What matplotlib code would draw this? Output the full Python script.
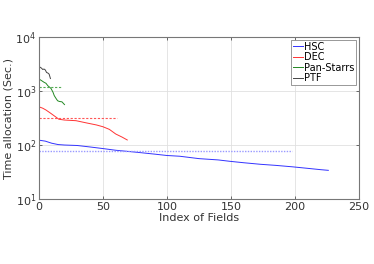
import numpy as np
import matplotlib
matplotlib.use("Agg")
import matplotlib.pyplot as plt

# HSC
hsc_idx = [0, 5, 10, 15, 20, 30, 40, 50, 60, 70, 80, 90, 100, 110, 125, 140, 149, 160, 173, 185, 198, 210, 220, 226]
hsc_val = [123, 118, 108, 102, 100, 98, 92, 86, 80, 76, 72, 68, 64, 62, 56, 53, 50, 47, 44, 42, 39.5, 37, 35, 34]
hsc_ref = 79
hsc_ref_end = 198

# DEC
dec_idx = [0, 3, 5.5, 9, 13, 15.6, 20, 29, 37, 45, 50, 55, 60, 65, 69]
dec_val = [510, 480, 445, 390, 333, 300, 290, 282, 257, 235, 218, 195, 160, 140, 124]
dec_ref = 316
dec_ref_end = 61

# Pan-Starrs
ps_idx = [0, 2, 4, 5.5, 7, 9.4, 11, 12, 13.5, 14.6, 16, 18, 20]
ps_val = [1670, 1560, 1450, 1390, 1250, 1120, 950, 820, 720, 660, 640, 630, 560]
ps_ref = 1200
ps_ref_end = 17

# PTF
ptf_idx = [0, 1, 2, 3, 4, 5, 6, 7, 8, 9]
ptf_val = [2800, 2750, 2650, 2500, 2550, 2450, 2200, 2150, 2050, 1700]

fig = plt.figure(figsize=(3.74, 2.64), dpi=100)
ax = fig.add_axes([0.104, 0.246, 0.856, 0.614])

ax.semilogy(hsc_idx, hsc_val, color="#3333ff", lw=0.7, label="HSC")
ax.semilogy(dec_idx, dec_val, color="#ff3333", lw=0.7, label="DEC")
ax.semilogy(ps_idx, ps_val, color="#228822", lw=0.7, label="Pan-Starrs")
ax.semilogy(ptf_idx, ptf_val, color="#444444", lw=0.7, label="PTF")

ax.plot([0, hsc_ref_end], [hsc_ref, hsc_ref], color="#9999ff", lw=1.0, ls=(0, (1, 1)))
ax.plot([0, dec_ref_end], [dec_ref, dec_ref], color="#ff5555", lw=0.8, ls=(0, (2, 1.5)))
ax.plot([0, ps_ref_end], [ps_ref, ps_ref], color="#55aa55", lw=0.8, ls=(0, (2, 1.5)))

ax.set_xlim(0, 250)
ax.set_ylim(10, 1e4)
ax.set_xticks([0, 50, 100, 150, 200, 250])
ax.set_yticks([10, 100, 1000, 10000])
ax.yaxis.set_minor_locator(matplotlib.ticker.NullLocator())
ax.grid(True, color="#e0e0e0", lw=0.6)
ax.tick_params(direction="in", length=2, width=0.5, labelsize=8, top=True, right=True, colors="#333333", pad=2)
for s in ax.spines.values():
    s.set_color("#777777")
    s.set_linewidth(0.8)

ax.set_xlabel("Index of Fields", fontsize=8, color="#333333", labelpad=1)
ax.set_ylabel("Time allocation (Sec.)", fontsize=8, color="#333333", labelpad=1)

leg = ax.legend(loc="upper right", fontsize=7, handlelength=1.0, handletextpad=0.1,
                borderpad=0.2, labelspacing=0.05, fancybox=False, framealpha=1,
                borderaxespad=0.3)
leg.get_frame().set_edgecolor("#888888")
leg.get_frame().set_linewidth(0.6)

fig.savefig("out.png", dpi=100)
